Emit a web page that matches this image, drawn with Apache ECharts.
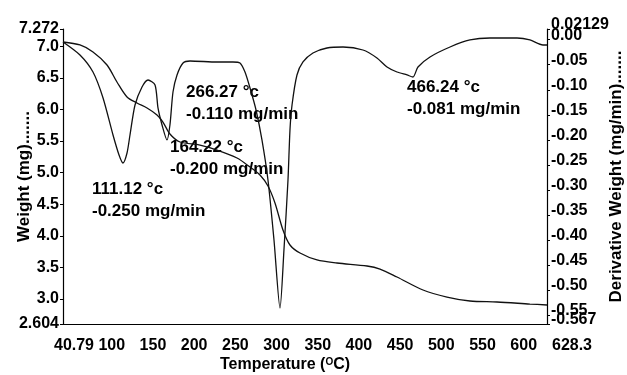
<!DOCTYPE html>
<html lang="en">
<head>
  <meta charset="UTF-8">
  <title>TGA / DTG</title>
  <script src="https://cdn.jsdelivr.net/npm/echarts@6/dist/echarts.min.js"></script>
</head>
<body style="margin:0">
    <div id="main" style="width: 627px;height:375px;"></div>
    <script type="text/javascript">
         // weight curve (left axis)
         var tgaTemp = [40.79, 61.4, 77.2, 94.2, 106.3, 118.5, 130.6, 142.8, 154.9, 162.1, 170.6, 182.8, 207.1, 227.7, 252.0, 267.8, 279.9, 289.6, 298.1, 307.8, 316.3, 328.5, 349.1, 373.4, 409.8, 425.6, 446.2, 477.8, 506.9, 534.8, 567.6, 607.6, 628.3];
         var tgaWeight = [7.066, 7.019, 6.908, 6.702, 6.433, 6.196, 6.101, 6.022, 5.911, 5.800, 5.610, 5.484, 5.436, 5.357, 5.231, 5.088, 4.962, 4.788, 4.519, 4.091, 3.854, 3.727, 3.617, 3.569, 3.522, 3.474, 3.348, 3.142, 3.031, 2.968, 2.952, 2.920, 2.905];
         // derivative curve (right axis)
         var dtgTemp = [40.79, 61.4, 77.2, 89.4, 101.5, 108.8, 113.6, 118.5, 122.1, 128.2, 136.7, 144.0, 152.5, 156.1, 161.0, 167.0, 170.6, 174.3, 179.2, 186.5, 195.0, 227.7, 247.1, 255.6, 261.7, 267.8, 275.1, 282.3, 289.6, 296.9, 304.2, 309.0, 313.9, 316.3, 318.8, 324.8, 332.1, 344.2, 361.2, 380.7, 404.9, 421.9, 434.1, 446.2, 458.4, 465.6, 471.7, 486.3, 510.6, 534.8, 559.1, 591.9, 607.6, 623.4, 628.3];
         var dtgDeriv = [-0.0046, -0.0305, -0.0645, -0.1163, -0.1901, -0.2300, -0.2459, -0.2260, -0.1901, -0.1303, -0.0944, -0.0804, -0.0904, -0.1362, -0.1701, -0.2000, -0.1701, -0.1043, -0.0704, -0.0465, -0.0425, -0.0445, -0.0445, -0.0465, -0.0645, -0.0964, -0.1402, -0.2000, -0.2798, -0.3995, -0.5351, -0.4194, -0.2798, -0.1801, -0.1303, -0.0704, -0.0445, -0.0265, -0.0166, -0.0146, -0.0206, -0.0365, -0.0545, -0.0645, -0.0704, -0.0744, -0.0545, -0.0345, -0.0146, -0.0006, 0.0033, 0.0033, -0.0006, -0.0106, -0.0106];
         // tick labels
         var tempTicks = [40.79, 100, 150, 200, 250, 300, 350, 400, 450, 500, 550, 600, 628.3];
         var weightTicks = [2.604, 3.0, 3.5, 4.0, 4.5, 5.0, 5.5, 6.0, 6.5, 7.0, 7.272];
         var weightLabels = ['2.604', '3.0', '3.5', '4.0', '4.5', '5.0', '5.5', '6.0', '6.5', '7.0', '7.272'];
         var derivTicks = [-0.55, -0.5, -0.45, -0.4, -0.35, -0.3, -0.25, -0.2, -0.15, -0.1, -0.05, 0];
         var derivLabels = ['-0.55', '-0.50', '-0.45', '-0.40', '-0.35', '-0.30', '-0.25', '-0.20', '-0.15', '-0.10', '-0.05', '0.00'];
         var derivEnds = [-0.567, 0.02129];
         var derivEndLabels = ['-0.567', '0.02129'];
         // peak notes
         var noteTemp = ['111.12 °c', '164.22 °c', '266.27 °c', '466.24 °c'];
         var noteRate = ['-0.250 mg/min', '-0.200 mg/min', '-0.110 mg/min', '-0.081 mg/min'];

         var font = 'Liberation Sans';
         var tgaData = tgaTemp.map(function (t, i) { return [t, tgaWeight[i]]; });
         var dtgData = dtgTemp.map(function (t, i) { return [t, dtgDeriv[i]]; });

         var notePos = [[92, 178], [170, 136], [186, 81], [407, 76]];
         var graphics = [];
         for (var i = 0; i < noteTemp.length; i++) {
             graphics.push({type: 'text', left: notePos[i][0], top: notePos[i][1],
                 style: {text: noteTemp[i] + '\n' + noteRate[i], font: 'bold 17px ' + font, fill: '#000', lineHeight: 22}});
         }

         // right axis labels sit a little high in the original
         var upRich = {u: {padding: [0, 0, 9, 0], fontWeight: 'bold', fontSize: 16, fontFamily: font, color: '#000'}};

         var myChart = echarts.init(document.getElementById('main'));
         var option = {
            animation: false,
            grid: {left: 63, right: 80, top: 29, bottom: 51, outerBoundsMode: 'none'},
            xAxis: {
                type: 'value', min: 40.79, max: 628.3,
                name: 'Temperature ({s|O}C)', nameLocation: 'middle', nameGap: 33, nameMoveOverlap: false,
                nameTextStyle: {color: '#000', fontWeight: 'bold', fontSize: 16, fontFamily: font, padding: [0, 40, 0, 0],
                    rich: {s: {fontSize: 10, fontWeight: 'bold', fontFamily: font, verticalAlign: 'top', color: '#000'}}},
                axisLine: {onZero: false, lineStyle: {color: '#000', width: 1.2}},
                axisTick: {show: false},
                splitLine: {show: false},
                axisLabel: {
                    customValues: tempTicks, color: '#000', fontWeight: 'bold', fontSize: 16, fontFamily: font, margin: 14,
                    showMinLabel: true, showMaxLabel: true,
                    formatter: function (v) {
                        if (v === 628.3) return '{r|628.3}';
                        if (v === 40.79) return '{l|40.79}';
                        return String(v);
                    },
                    rich: {
                        r: {padding: [0, 0, 0, 50], fontWeight: 'bold', fontSize: 16, fontFamily: font, color: '#000'},
                        l: {padding: [0, 0, 0, 22], fontWeight: 'bold', fontSize: 16, fontFamily: font, color: '#000'}
                    }
                }
            },
            yAxis: [{
                type: 'value', min: 2.604, max: 7.272, position: 'left',
                name: 'Weight (mg).......', nameLocation: 'middle', nameRotate: 90, nameGap: 30, nameMoveOverlap: false,
                nameTextStyle: {color: '#000', fontWeight: 'bold', fontSize: 17, fontFamily: font},
                axisLine: {show: true, onZero: false, lineStyle: {color: '#000', width: 1.2}},
                axisTick: {show: true, length: 3, customValues: weightTicks, lineStyle: {color: '#000'}},
                splitLine: {show: false},
                axisLabel: {
                    customValues: weightTicks, color: '#000', fontWeight: 'bold', fontSize: 16, fontFamily: font, margin: 4,
                    showMinLabel: true, showMaxLabel: true,
                    formatter: function (v) {
                        var k = weightTicks.indexOf(v);
                        return k >= 0 ? weightLabels[k] : String(v);
                    }
                }
            }, {
                type: 'value', min: -0.567, max: 0.02129, position: 'right',
                name: 'Derivative Weight (mg/min).......', nameLocation: 'middle', nameRotate: 90, nameGap: 61, nameMoveOverlap: false,
                nameTextStyle: {color: '#000', fontWeight: 'bold', fontSize: 17, fontFamily: font},
                axisLine: {show: true, onZero: false, lineStyle: {color: '#000', width: 1.2}},
                axisTick: {show: true, length: 3, customValues: derivTicks, lineStyle: {color: '#000'}},
                splitLine: {show: false},
                axisLabel: {
                    customValues: derivTicks, margin: 4, showMinLabel: true, showMaxLabel: true,
                    formatter: function (v) {
                        var k = derivTicks.indexOf(v);
                        return '{u|' + (k >= 0 ? derivLabels[k] : String(v)) + '}';
                    },
                    rich: upRich
                }
            }, {
                // end values of the derivative scale, kept apart so they are not dropped as overlapping
                type: 'value', min: -0.567, max: 0.02129, position: 'right',
                axisLine: {show: false, onZero: false},
                axisTick: {show: true, length: 3, customValues: derivEnds, lineStyle: {color: '#000'}},
                splitLine: {show: false},
                axisLabel: {
                    customValues: derivEnds, margin: 4, showMinLabel: true, showMaxLabel: true,
                    formatter: function (v) {
                        var k = derivEnds.indexOf(v);
                        return '{u|' + (k >= 0 ? derivEndLabels[k] : String(v)) + '}';
                    },
                    rich: upRich
                }
            }],
            series: [{
                name: 'Weight', type: 'line', yAxisIndex: 0, data: tgaData,
                smooth: 0.3, showSymbol: false, lineStyle: {color: '#111', width: 1.3}
            }, {
                name: 'Derivative Weight', type: 'line', yAxisIndex: 1, data: dtgData,
                smooth: 0.25, showSymbol: false, lineStyle: {color: '#111', width: 1.3}
            }],
            graphic: graphics
         };
         myChart.setOption(option);
    </script>
</body>
</html>
